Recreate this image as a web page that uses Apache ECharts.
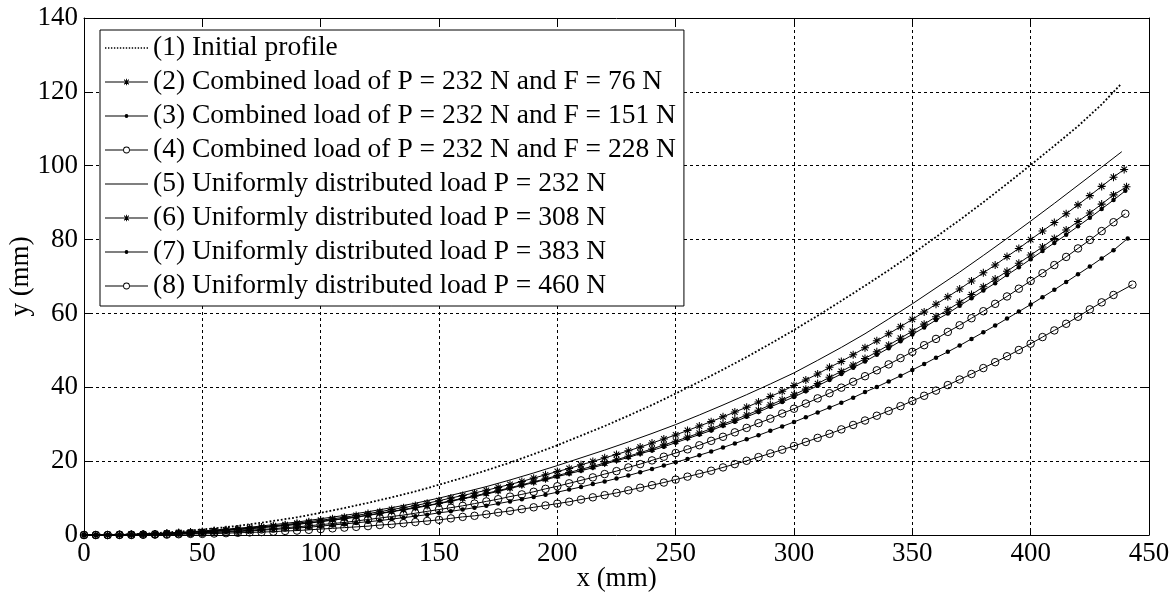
<!DOCTYPE html>
<html>
<head>
<meta charset="utf-8">
<title>Beam profile</title>
<script src="https://cdn.jsdelivr.net/npm/echarts@6/dist/echarts.min.js"></script>
<style>
  html, body { margin: 0; padding: 0; background: #fff; }
  #chart { width: 1175px; height: 594px; }
</style>
</head>
<body>
<div id="chart"></div>
<script>
// legend names
const names = [
    '(1) Initial profile',
    '(2) Combined load of P = 232 N and F = 76 N',
    '(3) Combined load of P = 232 N and F = 151 N',
    '(4) Combined load of P = 232 N and F = 228 N',
    '(5) Uniformly distributed load P = 232 N',
    '(6) Uniformly distributed load P = 308 N',
    '(7) Uniformly distributed load P = 383 N',
    '(8) Uniformly distributed load P = 460 N'
]

// x positions (mm) of the sampled points, last point of each curve is in xEnd
const xs10 = [0,10,20,30,40,50,60,70,80,90,100,110,120,130,140,150,160,170,180,190,
    200,210,220,230,240,250,260,270,280,290,300,310,320,330,340,350,360,370,380,390,
    400,410,420,430]
const xs5 = [0,5,10,15,20,25,30,35,40,45,50,55,60,65,70,75,80,85,90,95,
    100,105,110,115,120,125,130,135,140,145,150,155,160,165,170,175,180,185,190,195,
    200,205,210,215,220,225,230,235,240,245,250,255,260,265,270,275,280,285,290,295,
    300,305,310,315,320,325,330,335,340,345,350,355,360,365,370,375,380,385,390,395,
    400,405,410,415,420,425,430,435]
const xEnd = [438, 439.5, 440, 440, 438.5, 440.5, 441, 443]

// y (mm)
const y1 = [0,0.1,0.2,0.5,0.9,1.5,2.1,2.9,3.8,4.8,
    6.0,7.3,8.7,10.2,11.8,13.6,15.5,17.5,19.6,21.9,
    24.3,26.9,29.5,32.3,35.2,38.3,41.5,44.8,48.2,51.8,
    55.5,59.4,63.4,67.5,71.7,76.1,80.7,85.3,90.1,95.1,
    100.2,105.4,110.7,116.6, 122.0]
const y2 = [0,0,0,0.1,0.2,0.2,0.3,0.5,0.6,0.8,
    0.9,1.2,1.4,1.6,1.9,2.2,2.5,2.8,3.2,3.6,
    4.0,4.4,4.8,5.3,5.8,6.3,6.9,7.4,8.0,8.6,
    9.3,10.0,10.7,11.4,12.1,12.9,13.7,14.5,15.4,16.3,
    17.2,18.0,19.0,19.9,20.9,21.8,22.8,23.8,24.9,26.0,
    27.1,28.3,29.5,30.7,32.0,33.3,34.6,36.0,37.5,38.9,
    40.5,42.0,43.6,45.4,47.0,48.8,50.7,52.6,54.5,56.4,
    58.4,60.4,62.5,64.5,66.6,68.8,71.0,73.1,75.4,77.6,
    80.0,82.3,84.6,87.0,89.4,91.9,94.4,96.9, 99.0]
const y3 = [0,0,0,0.1,0.1,0.2,0.3,0.4,0.5,0.7,
    0.9,1.0,1.2,1.5,1.7,2.0,2.3,2.6,2.9,3.2,
    3.6,4.0,4.4,4.8,5.3,5.8,6.3,6.8,7.3,7.9,
    8.5,9.1,9.8,10.4,11.1,11.8,12.6,13.4,14.2,15.0,
    15.8,16.6,17.4,18.2,19.2,20.1,21.0,22.0,22.9,23.9,
    25.0,26.1,27.2,28.3,29.6,30.7,32.0,33.3,34.7,36.0,
    37.4,38.9,40.4,42.0,43.6,45.3,47.0,48.8,50.6,52.5,
    54.3,56.2,58.2,60.0,62.1,64.1,66.2,68.2,70.4,72.5,
    74.7,76.9,79.1,81.3,83.6,85.9,88.3,90.7, 93.2]
const y4 = [0,0,0,0.1,0.1,0.1,0.2,0.3,0.4,0.5,
    0.6,0.8,0.9,1.1,1.3,1.5,1.7,2.0,2.2,2.5,
    2.8,3.1,3.4,3.8,4.2,4.6,5.0,5.4,5.9,6.4,
    6.9,7.4,7.9,8.5,9.1,9.7,10.4,11.0,11.7,12.5,
    13.2,14.0,14.8,15.6,16.5,17.3,18.3,19.2,20.2,21.2,
    22.2,23.2,24.3,25.5,26.6,27.8,29.0,30.3,31.5,32.9,
    34.2,35.6,37.0,38.4,39.9,41.5,43.0,44.6,46.2,47.9,
    49.6,51.4,53.1,55.0,56.8,58.7,60.6,62.6,64.6,66.7,
    68.8,70.9,73.1,75.3,77.6,79.9,82.3,84.7, 87.0]
const y5 = [0,0,0.2,0.4,0.7,1.1,1.6,2.1,2.8,3.5,
    4.4,5.3,6.3,7.4,8.6,10.0,11.5,13.1,14.9,16.8,
    18.8,20.9,23.0,25.2,27.5,29.9,32.5,35.2,38.0,40.9,
    43.9,47.3,50.8,54.5,58.5,62.6,66.9,71.2,75.7,80.3,
    85.0,89.8,94.7,99.6, 103.8]
const y6 = [0,0,0,0.1,0.1,0.2,0.3,0.4,0.6,0.7,
    0.9,1.1,1.3,1.5,1.7,2.0,2.3,2.6,2.9,3.3,
    3.7,4.1,4.5,4.9,5.4,5.9,6.4,6.9,7.5,8.0,
    8.6,9.3,9.9,10.6,11.3,12.0,12.8,13.6,14.4,15.2,
    16.1,16.9,17.8,18.6,19.5,20.4,21.3,22.3,23.3,24.4,
    25.4,26.5,27.6,28.8,30.0,31.2,32.5,33.8,35.2,36.6,
    38.0,39.5,41.0,42.7,44.3,46.0,47.8,49.6,51.4,53.3,
    55.2,57.1,59.1,61.0,63.0,65.1,67.2,69.3,71.4,73.6,
    75.8,78.0,80.3,82.6,84.9,87.2,89.6,92.1, 94.3]
const y7 = [0,0,0,0,0.1,0.1,0.2,0.3,0.3,0.4,
    0.5,0.7,0.8,0.9,1.1,1.3,1.5,1.7,1.9,2.1,
    2.4,2.7,3.0,3.3,3.6,3.9,4.3,4.7,5.1,5.5,
    6.0,6.4,6.9,7.4,7.9,8.5,9.1,9.7,10.3,10.9,
    11.6,12.3,13.0,13.8,14.5,15.3,16.1,17.0,17.9,18.8,
    19.7,20.6,21.6,22.6,23.7,24.8,25.9,27.0,28.2,29.4,
    30.6,31.9,33.2,34.5,35.8,37.2,38.7,40.1,41.6,43.1,
    44.7,46.3,48.0,49.6,51.3,53.1,54.9,56.7,58.6,60.5,
    62.4,64.4,66.4,68.5,70.6,72.7,74.9,77.1, 80.3]
const y8 = [0,0,0,0,0,0.1,0.1,0.1,0.2,0.3,
    0.3,0.4,0.5,0.6,0.7,0.8,0.9,1.1,1.2,1.4,
    1.6,1.8,2.0,2.2,2.4,2.7,2.9,3.2,3.5,3.8,
    4.1,4.5,4.9,5.2,5.6,6.1,6.5,7.0,7.5,8.0,
    8.5,9.0,9.6,10.2,10.8,11.4,12.1,12.8,13.5,14.2,
    15.0,15.8,16.6,17.4,18.3,19.2,20.1,21.1,22.1,23.1,
    24.1,25.2,26.3,27.4,28.6,29.8,31.0,32.3,33.6,34.9,
    36.3,37.7,39.1,40.6,42.1,43.6,45.2,46.8,48.4,50.1,
    51.8,53.6,55.4,57.2,59.1,61.1,63.0,65.0, 67.8]

const xTicks = [0, 450, 50]
const yTicks = [0, 140, 20]

const serif = '"Liberation Serif", "Times New Roman", serif'
// matlab style '*' marker
const asterisk = 'path://M-1.3,-10L1.3,-10L1.3,10L-1.3,10Z' +
    'M-10,-1.3L10,-1.3L10,1.3L-10,1.3Z' +
    'M-6.08,-7.92L7.92,6.08L6.08,7.92L-7.92,-6.08Z' +
    'M-6.08,7.92L-7.92,6.08L6.08,-7.92L7.92,-6.08Z'

// legend icons, drawn in a 43 x 8 box (line + marker in the middle)
const corners = 'M0,0h0.02v0.02h-0.02Z M42.98,7.98h0.02v0.02h-0.02Z '
const fullLine = 'M0,3.5H43V4.5H0Z '
let dots = ''
for (let x = 0; x <= 42; x += 3) {
    dots += 'M' + x + ',3.3h1.4v1.4h-1.4Z '
}
const iconStar = fullLine + 'M21.05,0.7H21.95V7.3H21.05Z ' +
    'M19.42,1.28L24.22,6.08L23.58,6.72L18.78,1.92Z ' +
    'M19.42,6.72L18.78,6.08L23.58,1.28L24.22,1.92Z '
const iconDot = fullLine + 'M19.6,4A1.9,1.9 0 1,1 23.4,4A1.9,1.9 0 1,1 19.6,4Z '
const iconRing = 'M0,3.5H18.1V4.5H0Z M24.9,3.5H43V4.5H24.9Z ' +
    'M18.1,4A3.4,3.4 0 1,1 24.9,4A3.4,3.4 0 1,1 18.1,4Z ' +
    'M19,4A2.5,2.5 0 1,0 24,4A2.5,2.5 0 1,0 19,4Z '
const icons = [dots, iconStar, iconDot, iconRing, fullLine, iconStar, iconDot, iconRing]

function pts(xs, ys, xe) {
    return ys.map(function (v, i) {
        return [i < xs.length ? xs[i] : xe, v]
    })
}

function line(i, xs, ys, mark) {
    let s = {
        name: names[i],
        type: 'line',
        data: pts(xs, ys, xEnd[i]),
        lineStyle: {color: '#000', width: 1},
        itemStyle: {color: '#000'},
        symbol: 'none',
        silent: true,
        z: 2
    }
    if (mark === 'star') {
        s.symbol = asterisk
        s.symbolSize = 8
    } else if (mark === 'dot') {
        s.symbol = 'circle'
        s.symbolSize = 4.5
    } else if (mark === 'ring') {
        s.symbol = 'circle'
        s.symbolSize = 7.5
        s.itemStyle = {color: 'rgba(255,255,255,0)', borderColor: '#000', borderWidth: 1}
    }
    return s
}

let series = [
    line(0, xs10, y1, null),
    line(1, xs5, y2, 'star'),
    line(2, xs5, y3, 'dot'),
    line(3, xs5, y4, 'ring'),
    line(4, xs10, y5, null),
    line(5, xs5, y6, 'star'),
    line(6, xs5, y7, 'dot'),
    line(7, xs5, y8, 'ring')
]
series[0].lineStyle = {color: '#000', width: 1.8, type: [1.8, 2]}

const axisText = {color: '#000', fontFamily: serif, fontSize: 27}
const dashGrid = {show: true, lineStyle: {color: '#000', width: 1, type: [3, 3]}}
const blackLine = {show: true, onZero: false, lineStyle: {color: '#000', width: 1}}
const inTick = {show: true, inside: true, length: 6, lineStyle: {color: '#000'}}

let chart = echarts.init(document.getElementById('chart'))
chart.setOption({
    animation: false,
    backgroundColor: '#fff',
    grid: {left: 84, right: 26, top: 18, bottom: 59, containLabel: false, outerBoundsMode: 'none'},
    legend: {
        orient: 'vertical',
        left: 100,
        top: 30,
        padding: [4, 8, 6, 5],
        backgroundColor: '#fff',
        borderColor: '#000',
        borderWidth: 1,
        itemWidth: 43,
        itemHeight: 8,
        itemGap: 6,
        selectedMode: false,
        itemStyle: {color: '#000', borderWidth: 0},
        textStyle: {color: '#000', fontFamily: serif, fontSize: 27.5, lineHeight: 28},
        data: names.map(function (n, i) {
            return {name: n, icon: 'path://' + corners + icons[i]}
        })
    },
    xAxis: [{
        type: 'value', position: 'bottom',
        min: xTicks[0], max: xTicks[1], interval: xTicks[2],
        axisLine: blackLine, axisTick: inTick,
        axisLabel: Object.assign({margin: 5}, axisText),
        splitLine: dashGrid,
        name: 'x (mm)', nameLocation: 'middle', nameGap: 30, nameMoveOverlap: false,
        nameTextStyle: axisText
    }, {
        type: 'value', position: 'top',
        min: xTicks[0], max: xTicks[1], interval: xTicks[2],
        axisLine: blackLine, axisTick: inTick,
        axisLabel: {show: false}, splitLine: {show: false}
    }],
    yAxis: [{
        type: 'value', position: 'left',
        min: yTicks[0], max: yTicks[1], interval: yTicks[2],
        axisLine: blackLine, axisTick: inTick,
        axisLabel: Object.assign({margin: 6}, axisText),
        splitLine: dashGrid,
        name: 'y (mm)', nameLocation: 'middle', nameGap: 50, nameMoveOverlap: false,
        nameTextStyle: axisText
    }, {
        type: 'value', position: 'right',
        min: yTicks[0], max: yTicks[1], interval: yTicks[2],
        axisLine: blackLine, axisTick: inTick,
        axisLabel: {show: false}, splitLine: {show: false}
    }],
    series: series
})
</script>
</body>
</html>
